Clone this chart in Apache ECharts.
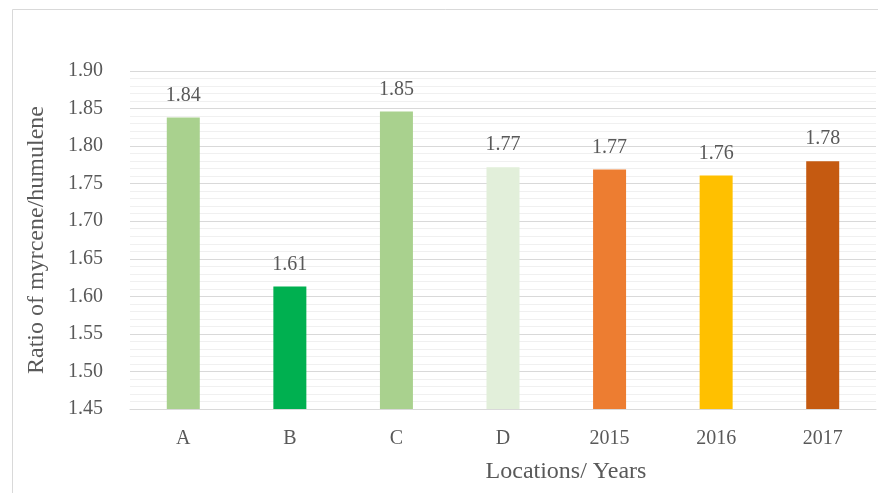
<!DOCTYPE html>
<html>
<head>
<meta charset="utf-8">
<script src="https://cdn.jsdelivr.net/npm/echarts@6/dist/echarts.min.js"></script>
<style>
  html, body { margin: 0; padding: 0; background: #fff; }
  #chart { width: 878px; height: 493px; }
</style>
</head>
<body>
<div id="chart"></div>
<script>
// Categories along the x axis
const categories = ['A', 'B', 'C', 'D', '2015', '2016', '2017'];
// Ratio of myrcene to humulene for each location / year
const ratios = [1.838, 1.613, 1.846, 1.772, 1.769, 1.761, 1.780];
// Fill colour per bar
const barColors = ['#A9D18E', '#00B050', '#A9D18E', '#E2EFDA', '#ED7D31', '#FFC000', '#C55A11'];

const yMin = 1.45, yMax = 1.90, yStep = 0.05;
const FONT = '"Liberation Serif", "DejaVu Serif", serif';
const TEXT = '#595959';

const chart = echarts.init(document.getElementById('chart'), null, { renderer: 'canvas' });

chart.setOption({
  animation: false,
  backgroundColor: '#ffffff',
  grid: { left: 130, right: 2, top: 71, bottom: 84 },
  xAxis: {
    type: 'category',
    data: categories,
    axisLine: { show: true, lineStyle: { color: '#D9D9D9', width: 1 } },
    axisTick: { show: false },
    axisLabel: { color: TEXT, fontFamily: FONT, fontSize: 20, margin: 20 }
  },
  yAxis: {
    type: 'value',
    min: yMin,
    max: yMax,
    interval: yStep,
    axisLine: { show: false },
    axisTick: { show: false },
    axisLabel: {
      color: TEXT, fontFamily: FONT, fontSize: 20, margin: 27,
      formatter: v => v.toFixed(2)
    },
    splitLine: { show: true, lineStyle: { color: '#D9D9D9', width: 1 } },
    minorTick: { show: false, splitNumber: 5 },
    minorSplitLine: { show: true, lineStyle: { color: '#F0F0F0', width: 1 } }
  },
  series: [{
    type: 'bar',
    barWidth: 33,
    data: ratios.map((v, i) => ({ value: v, itemStyle: { color: barColors[i] } })),
    label: {
      show: true,
      position: 'top',
      distance: 12,
      color: TEXT,
      fontFamily: FONT,
      fontSize: 20,
      formatter: p => p.value.toFixed(2)
    }
  }],
  graphic: [
    {
      type: 'rect',
      shape: { x: 12.5, y: 9.5, width: 900, height: 520 },
      style: { fill: 'none', stroke: '#D9D9D9', lineWidth: 1 },
      z: -1
    },
    {
      type: 'text',
      x: 37,
      y: 240,
      rotation: Math.PI / 2,
      style: {
        text: 'Ratio of myrcene/humulene',
        fill: TEXT,
        font: '24px ' + FONT,
        align: 'center',
        verticalAlign: 'middle'
      }
    },
    {
      type: 'text',
      x: 566,
      y: 472,
      style: {
        text: 'Locations/ Years',
        fill: TEXT,
        font: '24px ' + FONT,
        align: 'center',
        verticalAlign: 'middle'
      }
    }
  ]
});
</script>
</body>
</html>
